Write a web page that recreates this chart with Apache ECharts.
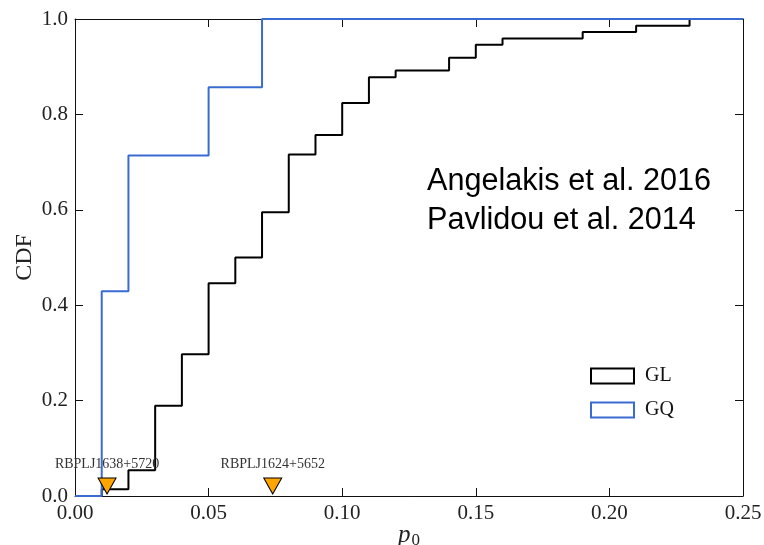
<!DOCTYPE html>
<html>
<head>
<meta charset="utf-8">
<script src="https://cdn.jsdelivr.net/npm/echarts@6/dist/echarts.min.js"></script>
<style>
  html, body { margin: 0; padding: 0; background: #fff; }
  #chart { width: 764px; height: 545px; }
</style>
</head>
<body>
<div id="chart"></div>
<script>
// Empirical CDF of p0 for the GL sample (step positions and levels)
const glP0  = [0, 0.01, 0.02, 0.03, 0.04, 0.05, 0.06, 0.07, 0.08, 0.09, 0.10, 0.11, 0.12, 0.14, 0.15, 0.16, 0.19, 0.21, 0.23, 0.25];
const glCdf = [0, 0.014, 0.054, 0.189, 0.297, 0.446, 0.500, 0.595, 0.716, 0.757, 0.824, 0.878, 0.892, 0.919, 0.946, 0.959, 0.973, 0.986, 1.0, 1.0];

// Empirical CDF of p0 for the GQ sample
const gqP0  = [0, 0.01, 0.02, 0.05, 0.07, 0.25];
const gqCdf = [0, 0.429, 0.714, 0.857, 1.0, 1.0];

// Marked sources
const srcNames = ['RBPLJ1638+5720', 'RBPLJ1624+5652'];
const srcP0    = [0.012, 0.074];
const srcY     = [0.021, 0.021];

const xTicks = [0, 0.05, 0.10, 0.15, 0.20, 0.25];
const yTicks = [0, 0.2, 0.4, 0.6, 0.8, 1.0];

const serif = '"Liberation Serif", "DejaVu Serif", serif';
const sans  = '"Liberation Sans", Arial, sans-serif';
const blue  = '#3a6bd0';

const chart = echarts.init(document.getElementById('chart'), null, { renderer: 'canvas' });

const axisLine = { show: true, onZero: false, lineStyle: { color: '#111', width: 1 } };
const tick = { show: true, inside: true, length: 8, lineStyle: { color: '#111', width: 1 } };

chart.setOption({
  animation: false,
  backgroundColor: '#fff',
  grid: { left: 75, right: 21, top: 19, bottom: 49, containLabel: false, outerBoundsMode: 'none' },
  legend: {
    orient: 'vertical',
    left: 585, top: 361,
    itemWidth: 43, itemHeight: 15, itemGap: 14,
    textStyle: { fontFamily: serif, fontSize: 20, color: '#111', padding: [0, 0, 0, 6] },
    data: [
      { name: 'GL', icon: 'rect', itemStyle: { color: '#fff', borderColor: '#000', borderWidth: 2 } },
      { name: 'GQ', icon: 'rect', itemStyle: { color: '#fff', borderColor: blue, borderWidth: 2 } }
    ]
  },
  xAxis: [
    {
      type: 'value', min: xTicks[0], max: xTicks[xTicks.length - 1], interval: 0.05,
      position: 'bottom',
      axisLine, axisTick: tick, splitLine: { show: false },
      axisLabel: { margin: 7, fontFamily: serif, fontSize: 21, color: '#222',
        formatter: v => v.toFixed(2) },
      name: '{p|p}{s|0}', nameLocation: 'middle', nameGap: 26, nameMoveOverlap: false,
      nameTextStyle: { rich: {
        p: { fontFamily: serif, fontStyle: 'italic', fontSize: 25, color: '#222' },
        s: { fontFamily: serif, fontSize: 17, color: '#222', padding: [10, 0, 0, 1] }
      } }
    },
    {
      type: 'value', min: xTicks[0], max: xTicks[xTicks.length - 1], interval: 0.05,
      position: 'top',
      axisLine, axisTick: tick, axisLabel: { show: false }, splitLine: { show: false }
    }
  ],
  yAxis: [
    {
      type: 'value', min: yTicks[0], max: yTicks[yTicks.length - 1], interval: 0.2,
      position: 'left',
      axisLine, axisTick: tick, splitLine: { show: false },
      axisLabel: { margin: 7, fontFamily: serif, fontSize: 21, color: '#222',
        formatter: v => v.toFixed(1) },
      name: 'CDF', nameLocation: 'middle', nameGap: 38, nameRotate: 90, nameMoveOverlap: false,
      nameTextStyle: { fontFamily: serif, fontSize: 24, color: '#222' }
    },
    {
      type: 'value', min: yTicks[0], max: yTicks[yTicks.length - 1], interval: 0.2,
      position: 'right',
      axisLine, axisTick: tick, axisLabel: { show: false }, splitLine: { show: false }
    }
  ],
  series: [
    {
      name: 'GL', type: 'line', step: 'end', showSymbol: false, symbol: 'none',
      data: glP0.map((x, i) => [x, glCdf[i]]),
      lineStyle: { color: '#000', width: 2 }, itemStyle: { color: '#000' },
      z: 3
    },
    {
      name: 'GQ', type: 'line', step: 'end', showSymbol: false, symbol: 'none',
      data: gqP0.map((x, i) => [x, gqCdf[i]]),
      lineStyle: { color: blue, width: 2 }, itemStyle: { color: blue },
      z: 4
    },
    {
      name: 'sources', type: 'scatter',
      symbol: 'triangle', symbolRotate: 180, symbolSize: [18, 16],
      data: srcP0.map((x, i) => ({ value: [x, srcY[i]], name: srcNames[i] })),
      itemStyle: { color: '#FFA500', borderColor: '#000', borderWidth: 1, opacity: 1 },
      label: {
        show: true, position: 'top', distance: 6,
        formatter: p => p.name,
        fontFamily: serif, fontSize: 14, color: '#333'
      },
      z: 5
    }
  ],
  graphic: [
    {
      type: 'text', left: 427, top: 162, z: 10,
      style: {
        text: 'Angelakis et al. 2016\nPavlidou et al. 2014',
        fontFamily: sans, fontSize: 30.6, lineHeight: 39, fill: '#000'
      }
    }
  ]
});
</script>
</body>
</html>
